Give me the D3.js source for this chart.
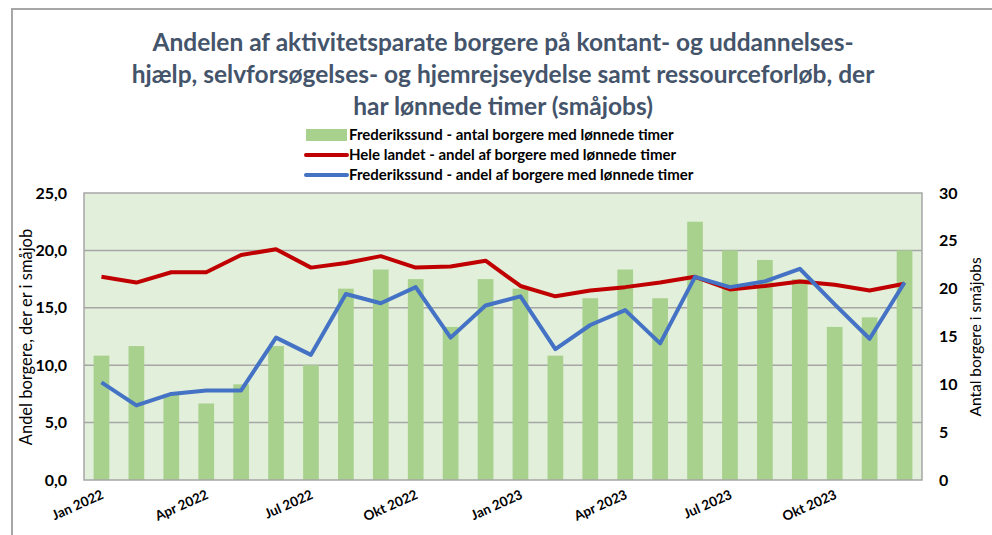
<!DOCTYPE html>
<html>
<head>
<meta charset="utf-8">
<script src="https://cdn.jsdelivr.net/npm/d3@7"></script>
<style>
  body { margin: 0; background: #fff; }
  svg { font-family: Lato, "Open Sans", sans-serif; }
</style>
</head>
<body>
<div id="chart"></div>
<script>

// months on the x axis
var months = ["Jan 2022","Feb 2022","Mar 2022","Apr 2022","Maj 2022","Jun 2022",
              "Jul 2022","Aug 2022","Sep 2022","Okt 2022","Nov 2022","Dec 2022",
              "Jan 2023","Feb 2023","Mar 2023","Apr 2023","Maj 2023","Jun 2023",
              "Jul 2023","Aug 2023","Sep 2023","Okt 2023","Nov 2023","Dec 2023"];

// labels only shown every 3rd month
var tickMonths = ["Jan 2022","Apr 2022","Jul 2022","Okt 2022","Jan 2023","Apr 2023","Jul 2023","Okt 2023"];

// Frederikssund - antal borgere med lønnede timer (right axis)
var antal = [13,14,9,8,10,14,12,20,22,21,16,21,20,13,19,22,19,27,24,23,21,16,17,24];

// Hele landet - andel (left axis, %)
var landet = [17.7,17.2,18.1,18.1,19.6,20.1,18.5,18.9,19.5,18.5,18.6,19.1,
              16.9,16.0,16.5,16.8,17.2,17.7,16.6,16.9,17.3,17.0,16.5,17.1];

// Frederikssund - andel (left axis, %)
var fredAndel = [8.5,6.5,7.5,7.8,7.8,12.4,10.9,16.2,15.4,16.8,12.4,15.2,
                 16.0,11.4,13.5,14.8,11.9,17.7,16.8,17.3,18.4,15.3,12.3,17.2];

var titleLines = ["Andelen af aktivitetsparate borgere på kontant- og uddannelses-",
                  "hjælp, selvforsøgelses- og hjemrejseydelse samt ressourceforløb, der",
                  "har lønnede timer (småjobs)"];

var legendItems = ["Frederikssund - antal borgere med lønnede timer",
                   "Hele landet - andel af borgere med lønnede timer",
                   "Frederikssund - andel af borgere med lønnede timer"];

var width = 992, height = 535;
var margin = {top: 193, right: 70, bottom: 55, left: 84};
var plotW = width - margin.left - margin.right;
var plotH = height - margin.top - margin.bottom;

var svg = d3.select("#chart").append("svg")
    .attr("width", width)
    .attr("height", height);

// outer chart border
svg.append("path")
    .attr("d", "M12,540 L12,9 L1000,9")
    .attr("fill", "none")
    .attr("stroke", "#a6a6a6")
    .attr("stroke-width", 2);

// title
svg.append("g").selectAll("text")
    .data(titleLines)
    .enter().append("text")
    .attr("x", 503)
    .attr("y", function(d, i){ return 51 + i * 32; })
    .attr("text-anchor", "middle")
    .attr("font-size", 24.5)
    .attr("font-weight", "bold")
    .attr("fill", "#44546a")
    .text(function(d){ return d; });

var g = svg.append("g")
    .attr("transform", "translate(" + margin.left + "," + margin.top + ")");

var x = d3.scaleBand()
    .domain(months)
    .range([0, plotW])
    .paddingInner(0.55)
    .paddingOuter(0.275);

var yLeft = d3.scaleLinear().domain([0, 25]).range([plotH, 0]);
var yRight = d3.scaleLinear().domain([0, 30]).range([plotH, 0]);

// plot background
g.append("rect")
    .attr("width", plotW)
    .attr("height", plotH)
    .attr("fill", "#e2efda");

// gridlines
g.append("g")
    .selectAll("line")
    .data([5, 10, 15, 20])
    .enter().append("line")
    .attr("x1", 0)
    .attr("x2", plotW)
    .attr("y1", function(d){ return yLeft(d); })
    .attr("y2", function(d){ return yLeft(d); })
    .attr("stroke", "#a6a6a6")
    .attr("stroke-width", 1.5);

// bars
g.append("g")
    .selectAll("rect")
    .data(antal)
    .enter().append("rect")
    .attr("x", function(d, i){ return x(months[i]); })
    .attr("y", function(d){ return yRight(d); })
    .attr("width", x.bandwidth())
    .attr("height", function(d){ return plotH - yRight(d); })
    .attr("fill", "#a9d18e");

// plot border
g.append("rect")
    .attr("width", plotW)
    .attr("height", plotH)
    .attr("fill", "none")
    .attr("stroke", "#a6a6a6")
    .attr("stroke-width", 1.5);

var line = d3.line()
    .x(function(d, i){ return x(months[i]) + x.bandwidth() / 2; })
    .y(function(d){ return yLeft(d); });

g.append("path")
    .datum(landet)
    .attr("d", line)
    .attr("fill", "none")
    .attr("stroke", "#c00000")
    .attr("stroke-width", 4)
    .attr("stroke-linejoin", "round");

g.append("path")
    .datum(fredAndel)
    .attr("d", line)
    .attr("fill", "none")
    .attr("stroke", "#4472c4")
    .attr("stroke-width", 4)
    .attr("stroke-linejoin", "round");

// left axis
var leftAxis = g.append("g")
    .attr("transform", "translate(-14,0)")
    .call(d3.axisLeft(yLeft).tickValues([0,5,10,15,20,25]).tickSize(0)
        .tickFormat(function(d){ return d3.format(".1f")(d).replace(".", ","); }));
leftAxis.select(".domain").remove();
leftAxis.selectAll("text")
    .attr("font-family", "Lato, sans-serif")
    .attr("font-size", 16)
    .attr("font-weight", "bold")
    .attr("fill", "#000");

// right axis
var rightAxis = g.append("g")
    .attr("transform", "translate(" + (plotW + 14) + ",0)")
    .call(d3.axisRight(yRight).tickValues([0,5,10,15,20,25,30]).tickSize(0));
rightAxis.select(".domain").remove();
rightAxis.selectAll("text")
    .attr("font-family", "Lato, sans-serif")
    .attr("font-size", 16)
    .attr("font-weight", "bold")
    .attr("fill", "#000");

// x axis labels
var xAxis = g.append("g")
    .attr("transform", "translate(0," + plotH + ")")
    .call(d3.axisBottom(x).tickValues(tickMonths).tickSize(0));
xAxis.select(".domain").remove();
xAxis.selectAll("text")
    .attr("font-family", "Lato, sans-serif")
    .attr("font-size", 13.5)
    .attr("font-weight", "bold")
    .attr("fill", "#000")
    .attr("text-anchor", "end")
    .attr("dy", 0)
    .attr("y", 0)
    .attr("transform", "translate(3,18) rotate(-24)");

// axis titles
svg.append("text")
    .attr("transform", "translate(32,337) rotate(-90)")
    .attr("text-anchor", "middle")
    .attr("font-size", 16.5)
    .attr("fill", "#000")
    .text("Andel borgere, der er i småjob");

svg.append("text")
    .attr("transform", "translate(981,337) rotate(-90)")
    .attr("text-anchor", "middle")
    .attr("font-size", 15.5)
    .attr("fill", "#000")
    .text("Antal borgere i småjobs");

// legend
var legend = svg.append("g");
var rowY = [135, 155, 175];

legend.append("rect")
    .attr("x", 306)
    .attr("y", rowY[0] - 6)
    .attr("width", 41)
    .attr("height", 12)
    .attr("fill", "#a9d18e");

legend.append("line")
    .attr("x1", 306).attr("x2", 347)
    .attr("y1", rowY[1]).attr("y2", rowY[1])
    .attr("stroke", "#c00000")
    .attr("stroke-width", 4)
    .attr("stroke-linecap", "round");

legend.append("line")
    .attr("x1", 306).attr("x2", 347)
    .attr("y1", rowY[2]).attr("y2", rowY[2])
    .attr("stroke", "#4472c4")
    .attr("stroke-width", 4)
    .attr("stroke-linecap", "round");

legend.selectAll(".legend-text")
    .data(legendItems)
    .enter().append("text")
    .attr("class", "legend-text")
    .attr("x", 349)
    .attr("y", function(d, i){ return rowY[i]; })
    .attr("dy", "0.35em")
    .attr("font-size", 15)
    .attr("font-weight", "bold")
    .attr("fill", "#000")
    .text(function(d){ return d; });

</script>
</body>
</html>
